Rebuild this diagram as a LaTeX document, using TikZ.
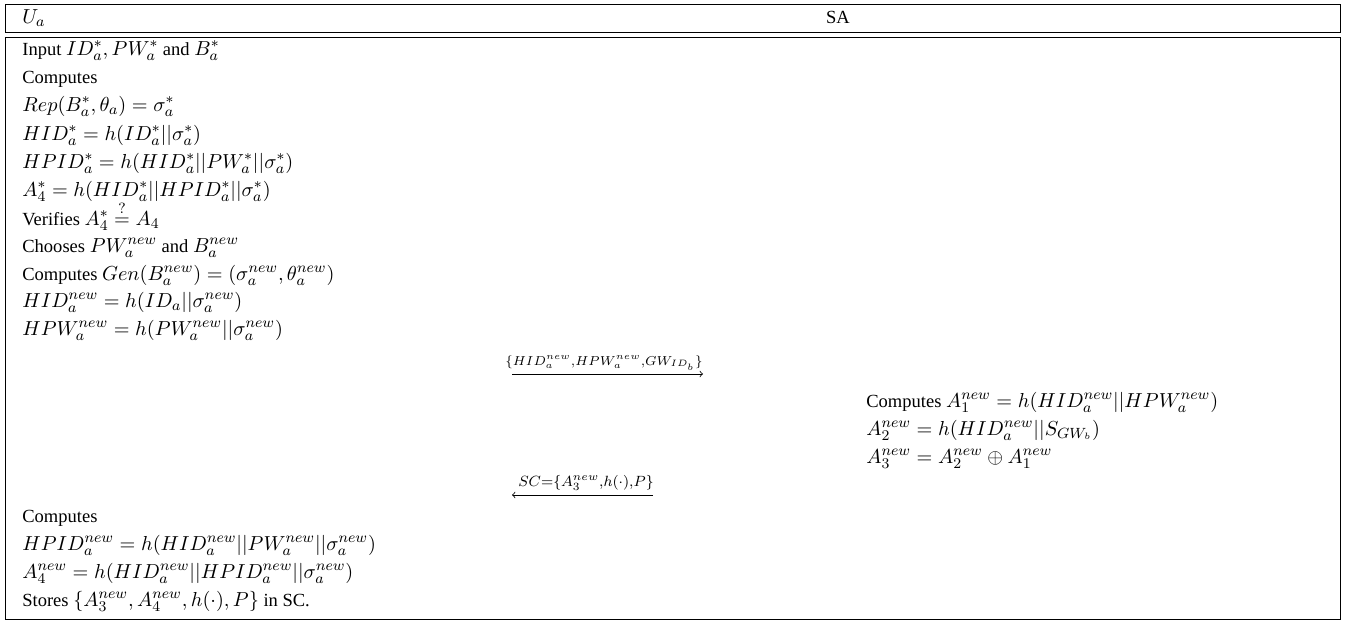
\documentclass[tikz,border=0pt]{standalone}
\usepackage{fontspec}
\setmainfont{Liberation Serif}
\newcommand{\mth}[1]{{\fontsize{11}{13}\selectfont$#1$}}
\begin{document}
\begin{tikzpicture}[x=0.54pt,y=-0.54pt,
  line/.style={anchor=base west, inner sep=0pt, font=\fontsize{10}{12}\selectfont},
  lbl/.style={anchor=base, inner sep=0pt},
  frame/.style={draw=black, line width=0.5pt},
  msg/.style={line width=0.4pt}]
\useasboundingbox (0,0) rectangle (1346,623);
% header
\draw[frame] (5,4) rectangle (1340,32);
\node[line] (ua) at (22,23) {\mth{U_a}};
\node[line, anchor=base] (sa) at (838,23) {SA};
% main frame
\draw[frame] (5,37) rectangle (1340,619);
% user block
\node[line] (l1) at (22,55) {Input \mth{ID_a^*, PW_a^*} and \mth{B_a^*}};
\node[line] (l2) at (22,83) {Computes};
\node[line] (l3) at (22,111) {\mth{Rep(B_a^*, \theta_a) = \sigma_a^*}};
\node[line] (l4) at (22,140) {\mth{HID_a^* = h(ID_a^*||\sigma_a^*)}};
\node[line] (l5) at (22,168) {\mth{HPID_a^* = h(HID_a^*||PW_a^*||\sigma_a^*)}};
\node[line] (l6) at (22,196) {\mth{A_4^* = h(HID_a^*||HPID_a^*||\sigma_a^*)}};
\node[line] (l7) at (22,225) {Verifies \mth{A_4^* \stackrel{?}{=} A_4}};
\node[line] (l8) at (22,252) {Chooses \mth{PW_a^{new}} and \mth{B_a^{new}}};
\node[line] (l9) at (22,280) {Computes \mth{Gen(B_a^{new}) = (\sigma_a^{new}, \theta_a^{new})}};
\node[line] (l10) at (22,307) {\mth{HID_a^{new} = h(ID_a||\sigma_a^{new})}};
\node[line] (l11) at (22,335) {\mth{HPW_a^{new} = h(PW_a^{new}||\sigma_a^{new})}};
% message 1
\coordinate (m1s) at (512,374);
\coordinate (m1e) at (703,374);
\draw[msg,->] (m1s) -- (m1e);
\node[lbl, font=\fontsize{10.4}{12}\selectfont] (m1) at (604,365) {$\scriptstyle\{HID_a^{new},HPW_a^{new},GW_{ID_b}\}$};
% SA block
\node[line] (r1) at (866,407) {Computes \mth{A_1^{new} = h(HID_a^{new}||HPW_a^{new})}};
\node[line] (r2) at (866,435) {\mth{A_2^{new} = h(HID_a^{new}||S_{GW_b})}};
\node[line] (r3) at (866,463) {\mth{A_3^{new} = A_2^{new} \oplus A_1^{new}}};
% message 2
\coordinate (m2s) at (653,495);
\coordinate (m2e) at (512,495);
\draw[msg,->] (m2s) -- (m2e);
\node[lbl, font=\fontsize{12}{14}\selectfont] (m2) at (586,486) {$\scriptstyle SC=\{A_3^{new},h(\cdot),P\}$};
% final block
\node[line] (b1) at (22,522) {Computes};
\node[line] (b2) at (22,550) {\mth{HPID_a^{new} = h(HID_a^{new}||PW_a^{new}||\sigma_a^{new})}};
\node[line] (b3) at (22,578) {\mth{A_4^{new} = h(HID_a^{new}||HPID_a^{new}||\sigma_a^{new})}};
\node[line] (b4) at (22,606) {Stores \mth{\{A_3^{new}, A_4^{new}, h(\cdot), P\}} in SC.};
\end{tikzpicture}
\end{document}
